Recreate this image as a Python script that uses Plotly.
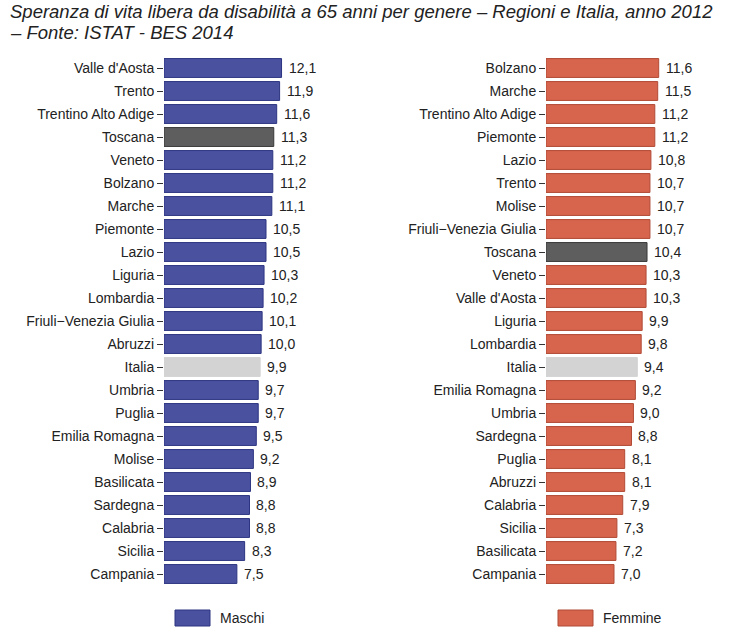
import plotly.graph_objects as go

# ---- data ----
regioni_m = ["Valle d'Aosta", "Trento", "Trentino Alto Adige", "Toscana", "Veneto", "Bolzano",
             "Marche", "Piemonte", "Lazio", "Liguria", "Lombardia", "Friuli\u2212Venezia Giulia",
             "Abruzzi", "Italia", "Umbria", "Puglia", "Emilia Romagna", "Molise", "Basilicata",
             "Sardegna", "Calabria", "Sicilia", "Campania"]
valori_m = [12.1, 11.9, 11.6, 11.3, 11.2, 11.2, 11.1, 10.5, 10.5, 10.3, 10.2, 10.1,
            10.0, 9.9, 9.7, 9.7, 9.5, 9.2, 8.9, 8.8, 8.8, 8.3, 7.5]

regioni_f = ["Bolzano", "Marche", "Trentino Alto Adige", "Piemonte", "Lazio", "Trento", "Molise",
             "Friuli\u2212Venezia Giulia", "Toscana", "Veneto", "Valle d'Aosta", "Liguria",
             "Lombardia", "Italia", "Emilia Romagna", "Umbria", "Sardegna", "Puglia", "Abruzzi",
             "Calabria", "Sicilia", "Basilicata", "Campania"]
valori_f = [11.6, 11.5, 11.2, 11.2, 10.8, 10.7, 10.7, 10.7, 10.4, 10.3, 10.3, 9.9,
            9.8, 9.4, 9.2, 9.0, 8.8, 8.1, 8.1, 7.9, 7.3, 7.2, 7.0]

titolo = ["Speranza di vita libera da disabilità a 65 anni per genere \u2013 Regioni e Italia, anno 2012",
          "\u2013 Fonte: ISTAT - BES 2014"]
serie = ["Maschi", "Femmine"]

# ---- styles ----
BLUE, BLUE_LINE = "#4a52a0", "#2c3480"
RED, RED_LINE = "#d7654d", "#b04a36"
TOSC, TOSC_LINE = "#5e5e5e", "#383838"
ITA, ITA_LINE = "#d3d3d3", "#d3d3d3"
FONT = "Liberation Sans, Arial, sans-serif"
TFONT = "Liberation Sans Narrow, Arial Narrow, Liberation Sans, sans-serif"
FS = 14


def colors(names, base, line):
    fill, border = [], []
    for n in names:
        if n == "Toscana":
            fill.append(TOSC); border.append(TOSC_LINE)
        elif n == "Italia":
            fill.append(ITA); border.append(ITA_LINE)
        else:
            fill.append(base); border.append(line)
    return fill, border


def fmt(v):
    return f"{v:.1f}".replace(".", ",")


fig = go.Figure()
fm, bm = colors(regioni_m, BLUE, BLUE_LINE)
ff, bf = colors(regioni_f, RED, RED_LINE)

fig.add_trace(go.Bar(y=regioni_m, x=valori_m, orientation="h", width=0.82,
                     marker=dict(color=fm, line=dict(color=bm, width=1)),
                     xaxis="x", yaxis="y", showlegend=False, hoverinfo="x+y"))
fig.add_trace(go.Bar(y=regioni_f, x=valori_f, orientation="h", width=0.82,
                     marker=dict(color=ff, line=dict(color=bf, width=1)),
                     xaxis="x2", yaxis="y2", showlegend=False, hoverinfo="x+y"))

annotations = []
for n, v in zip(regioni_m, valori_m):
    annotations.append(dict(x=v, y=n, xref="x", yref="y", text=fmt(v), showarrow=False,
                            xanchor="left", xshift=5, font=dict(size=FS, color="#222", family=FONT)))
for n, v in zip(regioni_f, valori_f):
    annotations.append(dict(x=v, y=n, xref="x2", yref="y2", text=fmt(v), showarrow=False,
                            xanchor="left", xshift=5, font=dict(size=FS, color="#222", family=FONT)))

# title
annotations.append(dict(x=8 / 734, y=1 - 12 / 633, xref="paper", yref="paper", text="<i>" + titolo[0] + "</i>",
                        showarrow=False, xanchor="left", yanchor="middle",
                        font=dict(size=18.5, color="#222", family=TFONT)))
annotations.append(dict(x=8 / 734, y=1 - 32 / 633, xref="paper", yref="paper", text="<i>" + titolo[1] + "</i>",
                        showarrow=False, xanchor="left", yanchor="middle",
                        font=dict(size=18.5, color="#222", family=TFONT)))

# legend (manual)
shapes = []
leg = [(175, 218, serie[0], BLUE, BLUE_LINE), (558, 601, serie[1], RED, RED_LINE)]
for x0, xt, name, c, lc in leg:
    shapes.append(dict(type="rect", xref="paper", yref="paper",
                       x0=x0 / 734, x1=(x0 + 35) / 734, y0=1 - 626 / 633, y1=1 - 610 / 633,
                       fillcolor=c, line=dict(color=lc, width=1)))
    annotations.append(dict(x=xt / 734, y=1 - 618 / 633, xref="paper", yref="paper", text=name,
                            showarrow=False, xanchor="left", yanchor="middle",
                            font=dict(size=FS, color="#222", family=FONT)))

ydom = [1 - 585.5 / 633, 1 - 56.5 / 633]
common_y = dict(autorange="reversed", ticks="outside", ticklen=6, tickcolor="#333",
                showgrid=False, showline=False, zeroline=False, automargin=False,
                tickfont=dict(size=FS, color="#222", family=FONT), domain=ydom)
common_x = dict(range=[0, 14], showgrid=False, showline=False, zeroline=False,
                showticklabels=False, ticks="", automargin=False)

fig.update_layout(
    width=734, height=633,
    margin=dict(l=0, r=0, t=0, b=0, autoexpand=False),
    paper_bgcolor="white", plot_bgcolor="white",
    xaxis=dict(domain=[164 / 734, 300 / 734], anchor="y", **common_x),
    yaxis=dict(anchor="x", **common_y),
    xaxis2=dict(domain=[546 / 734, 682 / 734], anchor="y2", **common_x),
    yaxis2=dict(anchor="x2", **common_y),
    bargap=0.18,
    annotations=annotations,
    shapes=shapes,
    font=dict(family=FONT),
)

fig.write_html("out.html", config={"displayModeBar": False},
               post_script="document.body.style.margin='0px';")
